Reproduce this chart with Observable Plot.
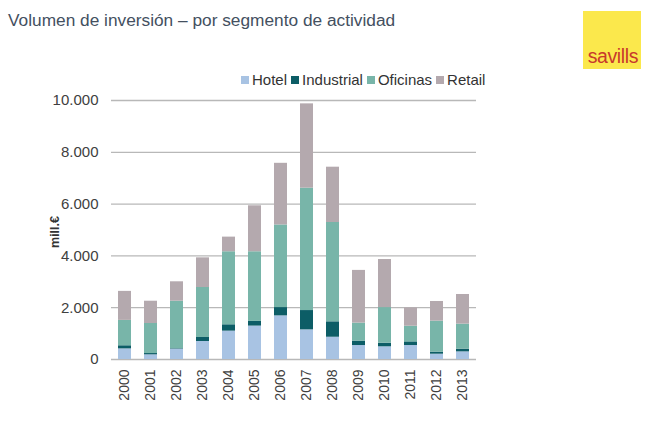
<!DOCTYPE html>
<html>
<head>
<meta charset="utf-8">
<script src="https://cdn.jsdelivr.net/npm/d3@7"></script>
<script src="https://cdn.jsdelivr.net/npm/@observablehq/plot@0.6"></script>
<style>
  html, body { margin: 0; padding: 0; background: #fff; }
  body { width: 650px; height: 423px; position: relative; overflow: hidden; font-family: "Liberation Sans", Arial, sans-serif; }
  #title { position: absolute; left: 8px; top: 10px; font-size: 17.3px; color: #44505f; white-space: nowrap; }
  #logo { position: absolute; left: 583px; top: 11px; width: 58px; height: 58px; background: #fbe84c; }
  #logo span { position: absolute; right: 3px; bottom: 1px; font-size: 19.5px; color: #c8392b; letter-spacing: -0.4px; }
  #legend { position: absolute; left: 241px; top: 71px; font-size: 15px; color: #333; display: flex; gap: 4px; white-space: nowrap; }
  #legend .it { display: flex; align-items: center; }
  #legend .sw { width: 8px; height: 8px; margin-right: 3px; display: inline-block; }
  #ylab { position: absolute; left: 55px; top: 232px; transform: translate(-50%, -50%) rotate(-90deg); font-size: 12.5px; font-weight: bold; color: #333; white-space: nowrap; }
  #chart { position: absolute; left: 0; top: 0; }
</style>
</head>
<body>
<div id="chart"></div>
<div id="title">Volumen de inversión – por segmento de actividad</div>
<div id="logo"><span>savills</span></div>
<div id="legend"></div>
<div id="ylab">mill.€</div>
<script>
const years = ["2000","2001","2002","2003","2004","2005","2006","2007","2008","2009","2010","2011","2012","2013"];
const segments = ["Hotel", "Industrial", "Oficinas", "Retail"];
const hotel      = [410, 180, 400, 695, 1095, 1290, 1685, 1145,  860,  540,  490, 540,  205,  295];
const industrial = [120,  50,  20, 155,  245,  180,  320,  745,  595,  170,  140, 140,   80,  105];
const oficinas   = [980,1160,1830,1930, 2820, 2690, 3190, 4725, 3835,  695, 1375, 605, 1195,  965];
const retail     = [1120, 860, 750,1145,  565, 1775, 2380, 3255, 2135, 2035, 1855, 710,  760, 1145];
const colors = ["#a8c3e3", "#0c5d66", "#78b5a9", "#b4a9ae"];
const yTicks = [0, 2000, 4000, 6000, 8000, 10000];

const series = [hotel, industrial, oficinas, retail];
const data = [];
years.forEach((yr, i) => {
  segments.forEach((s, j) => data.push({year: yr, segment: s, value: series[j][i]}));
});

const fmt = d3.formatLocale({decimal: ",", thousands: ".", grouping: [3], currency: ["", "€"]}).format(",d");

const chart = Plot.plot({
  width: 650,
  height: 423,
  marginLeft: 111,
  marginRight: 174,
  marginTop: 100,
  marginBottom: 64,
  style: {fontFamily: "'Liberation Sans', Arial, sans-serif", background: "transparent"},
  x: {domain: years, paddingInner: 0.5, paddingOuter: 0.25, label: null},
  y: {domain: [0, 10000], label: null},
  color: {domain: segments, range: colors},
  marks: [
    Plot.gridY(yTicks, {stroke: "#b8b8b8", strokeOpacity: 1, strokeWidth: 1.3}),
    Plot.barY(data, {x: "year", y: "value", fill: "segment", order: segments}),
    Plot.axisY(yTicks, {tickSize: 0, tickPadding: 13, tickFormat: fmt, fontSize: 15, fill: "#404040", label: null}),
    Plot.axisX({tickSize: 0, tickPadding: 10, tickRotate: -90, fontSize: 14, fill: "#404040", label: null})
  ]
});
document.getElementById("chart").appendChild(chart);

const leg = document.getElementById("legend");
segments.forEach((s, j) => {
  const it = document.createElement("span");
  it.className = "it";
  const sw = document.createElement("span");
  sw.className = "sw";
  sw.style.background = colors[j];
  it.appendChild(sw);
  it.appendChild(document.createTextNode(s));
  leg.appendChild(it);
});
</script>
</body>
</html>
